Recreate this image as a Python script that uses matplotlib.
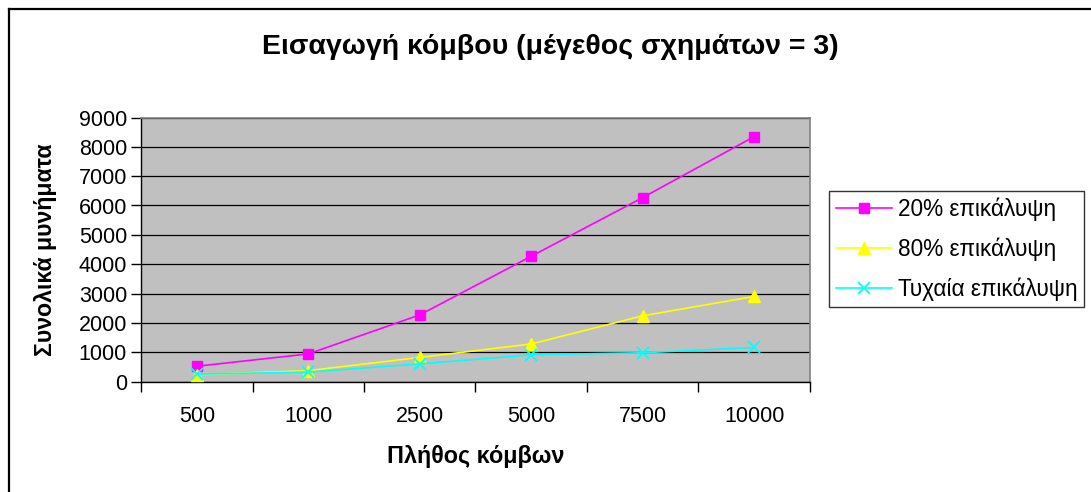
import matplotlib
matplotlib.use("Agg")
import matplotlib.pyplot as plt
from matplotlib.lines import Line2D

plt.rcParams['font.family'] = ['Liberation Sans', 'DejaVu Sans']

# node counts (category axis) and total messages per overlap scenario
nodes = ["500", "1000", "2500", "5000", "7500", "10000"]
overlap_20 = [520, 940, 2270, 4270, 6270, 8350]
overlap_80 = [230, 370, 820, 1280, 2240, 2900]
overlap_random = [250, 320, 600, 910, 980, 1160]

W, H = 1091, 492
fig = plt.figure(figsize=(W / 100, H / 100), dpi=100)

# chart frame (only top/left edges visible)
fig.add_artist(Line2D([8.5 / W, 8.5 / W], [0, 1 - 8.5 / H], transform=fig.transFigure,
                      color="black", lw=1.6))
fig.add_artist(Line2D([8.5 / W, 1], [1 - 8.5 / H, 1 - 8.5 / H], transform=fig.transFigure,
                      color="black", lw=1.6))

left, right, top, bottom = 141, 810, 117.5, 381.5
ax = fig.add_axes([left / W, 1 - bottom / H, (right - left) / W, (bottom - top) / H])
ax.set_facecolor("#C0C0C0")

x = list(range(len(nodes)))
ax.plot(x, overlap_20, color="#FF00FF", lw=1.2, marker="s", ms=7, label="20% επικάλυψη", zorder=3)
ax.plot(x, overlap_80, color="#FFFF00", lw=1.2, marker="^", ms=8, label="80% επικάλυψη", zorder=3)
ax.plot(x, overlap_random, color="#00FFFF", lw=1.2, marker="x", ms=8, mew=1.3,
        label="Τυχαία επικάλυψη", zorder=3)

ax.set_xlim(-0.5, len(nodes) - 0.5)
ax.set_ylim(0, 9000)
ax.set_yticks(range(0, 9001, 1000))
ax.yaxis.grid(True, color="black", lw=0.9)
ax.set_axisbelow(True)

# tick marks between categories, labels centred on categories
ax.set_xticks([i - 0.5 for i in range(len(nodes) + 1)])
ax.set_xticklabels([])
ax.set_xticks(x, minor=True)
ax.set_xticklabels(nodes, minor=True)
ax.tick_params(axis="x", which="minor", length=0, pad=18, labelsize=15.5)
ax.tick_params(axis="x", which="major", length=7, width=1, direction="out")
ax.tick_params(axis="y", length=7, width=1, direction="out", pad=3, labelsize=15.5)

for s in ("left", "bottom"):
    ax.spines[s].set_color("black")
    ax.spines[s].set_linewidth(1)
for s in ("top", "right"):
    ax.spines[s].set_color("#808080")
    ax.spines[s].set_linewidth(1.2)

fig.text(550 / W, 1 - 47 / H, "Εισαγωγή κόμβου (μέγεθος σχημάτων = 3)",
         ha="center", va="center", fontsize=20.5, fontweight="bold")
fig.text(476 / W, 1 - 457 / H, "Πλήθος κόμβων", ha="center", va="center",
         fontsize=16.8, fontweight="bold")
fig.text(46 / W, 1 - 250 / H, "Συνολικά μυνήματα", ha="center", va="center",
         rotation=90, fontsize=16.7, fontweight="bold")

leg = fig.legend(loc="center left", bbox_to_anchor=(829 / W, 1 - 249 / H),
                 fontsize=16.3, frameon=True, fancybox=False, edgecolor="black",
                 handlelength=2.5, handletextpad=0.25, labelspacing=0.72,
                 borderpad=0.3, borderaxespad=0)
leg.get_frame().set_linewidth(1)

fig.savefig("out.png", dpi=100)
